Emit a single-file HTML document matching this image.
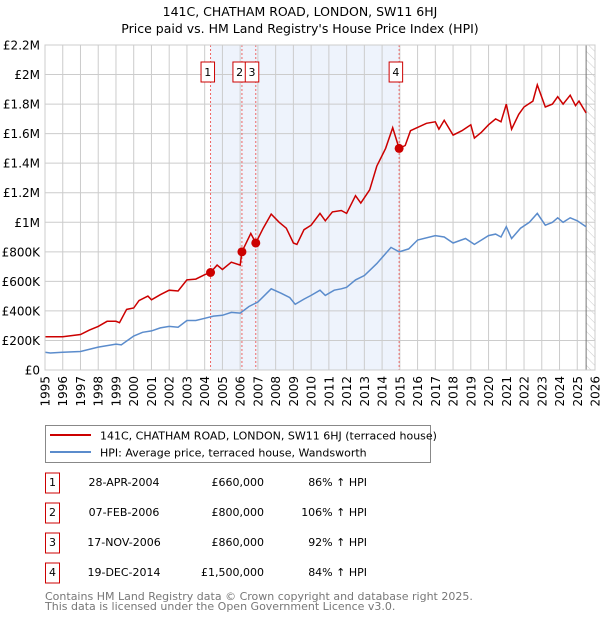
<!DOCTYPE html>
<html><head><meta charset="utf-8"><style>
body{margin:0;background:#fff;font-family:"DejaVu Sans","Liberation Sans",sans-serif;}
svg text{font-family:"DejaVu Sans","Liberation Sans",sans-serif;}
</style></head><body>
<svg id="chart" width="600" height="620" xmlns="http://www.w3.org/2000/svg">
<defs><pattern id="hatch" width="6" height="6" patternUnits="userSpaceOnUse" patternTransform="rotate(-45)"><line x1="0" y1="0" x2="0" y2="6" stroke="#ccc" stroke-width="1"/></pattern></defs>
<text x="300" y="16" text-anchor="middle" font-size="12.5">141C, CHATHAM ROAD, LONDON, SW11 6HJ</text>
<text x="300" y="33" text-anchor="middle" font-size="12.5">Price paid vs. HM Land Registry's House Price Index (HPI)</text>
<g id="plot"></g>
<g id="legend">
<rect x="45.5" y="425.5" width="385" height="37" fill="#fff" stroke="#888"/>
<line x1="50" y1="435" x2="91" y2="435" stroke="#cc0000" stroke-width="2"/>
<text x="100" y="439.5" font-size="11">141C, CHATHAM ROAD, LONDON, SW11 6HJ (terraced house)</text>
<line x1="50" y1="452" x2="91" y2="452" stroke="#5b8ccc" stroke-width="2"/>
<text x="100" y="456.5" font-size="11">HPI: Average price, terraced house, Wandsworth</text>
</g>
<g id="table"></g>
<text x="45" y="600" font-size="11" fill="#777">Contains HM Land Registry data © Crown copyright and database right 2025.</text>
<text x="45" y="610" font-size="11" fill="#777">This data is licensed under the Open Government Licence v3.0.</text>
</svg>
<script>
const redT=[1995,1995.5,1996,1997,1997.5,1998,1998.5,1999,1999.2,1999.6,2000,2000.3,2000.8,2001,2001.5,2002,2002.5,2003,2003.5,2004,2004.33,2004.7,2005,2005.5,2006,2006.1,2006.6,2006.88,2007.3,2007.75,2008.2,2008.6,2009,2009.2,2009.6,2010,2010.5,2010.8,2011.2,2011.7,2012,2012.5,2012.8,2013.3,2013.7,2014.2,2014.6,2014.96,2015.3,2015.6,2016.5,2017,2017.2,2017.5,2018,2018.5,2019,2019.2,2019.6,2020,2020.4,2020.7,2021,2021.3,2021.7,2022,2022.5,2022.75,2023.2,2023.6,2023.9,2024.2,2024.6,2024.9,2025.1,2025.5];
const redV=[225,225,225,240,270,295,330,330,320,410,420,470,500,475,510,540,535,610,615,645,660,710,680,730,710,800,925,860,960,1055,1000,960,860,850,950,980,1060,1010,1070,1080,1060,1180,1130,1220,1380,1500,1640,1500,1520,1620,1670,1680,1630,1690,1590,1620,1660,1570,1610,1660,1700,1680,1800,1630,1730,1780,1820,1930,1780,1800,1850,1800,1860,1790,1820,1740];
const hpiT=[1995,1995.3,1996,1997,1998,1999,1999.3,2000,2000.5,2001,2001.5,2002,2002.5,2003,2003.5,2004,2004.5,2005,2005.5,2006,2006.5,2007,2007.75,2008.3,2008.8,2009.1,2009.6,2010,2010.5,2010.8,2011.3,2011.7,2012,2012.5,2013,2013.7,2014.5,2014.96,2015.5,2016,2017,2017.5,2018,2018.7,2019.2,2019.6,2020,2020.4,2020.7,2021,2021.3,2021.8,2022.3,2022.75,2023.2,2023.6,2023.9,2024.2,2024.6,2025,2025.5];
const hpiV=[120,115,120,125,155,175,170,230,255,265,285,295,290,335,335,350,365,370,390,385,430,460,550,520,490,445,480,505,540,505,540,550,560,610,640,720,830,800,820,880,910,900,860,890,850,880,910,920,900,970,890,960,1000,1060,980,1000,1030,1000,1030,1010,970];
const saleT=[2004.33,2006.1,2006.88,2014.96];
const saleV=[660,800,860,1500];
const saleLabels=["1","2","3","4"];
const saleDates=["28-APR-2004","07-FEB-2006","17-NOV-2006","19-DEC-2014"];
const salePrices=["£660,000","£800,000","£860,000","£1,500,000"];
const salePct=["86% ↑ HPI","106% ↑ HPI","92% ↑ HPI","84% ↑ HPI"];
const yTicks=[0,200,400,600,800,1000,1200,1400,1600,1800,2000,2200];
const yTickLabels=["£0","£200K","£400K","£600K","£800K","£1M","£1.2M","£1.4M","£1.6M","£1.8M","£2M","£2.2M"];
const xYears=[1995,1996,1997,1998,1999,2000,2001,2002,2003,2004,2005,2006,2007,2008,2009,2010,2011,2012,2013,2014,2015,2016,2017,2018,2019,2020,2021,2022,2023,2024,2025,2026];

const NS="http://www.w3.org/2000/svg";
const X0=45,X1=595,Y0=370,Y1=45;
const x=t=>X0+(t-1995)/(2026-1995)*(X1-X0);
const y=v=>Y0-v/2200*(Y0-Y1);
const plot=document.getElementById('plot');
function mk(tag,attrs,parent){const e=document.createElementNS(NS,tag);for(const k in attrs)e.setAttribute(k,attrs[k]);(parent||plot).appendChild(e);return e;}
let e;
e=mk('rect',{x:x(saleT[0]),y:Y1,width:x(saleT[3])-x(saleT[0]),height:Y0-Y1,fill:'#eef3fc'});


e=mk('rect',{x:x(2025.5),y:Y1,width:X1-x(2025.5),height:Y0-Y1,fill:'url(#hatch)'});


yTicks.forEach((v,i)=>{
 e=mk('line',{x1:X0,x2:X1,y1:y(v),y2:y(v),stroke:'#ccc'});
 
 
 e=mk('text',{x:40,y:y(v)+4.5,'text-anchor':'end','font-size':12});
 e.textContent=yTickLabels[i];
 
 
});
xYears.forEach(yr=>{
 e=mk('line',{x1:x(yr),x2:x(yr),y1:Y1,y2:Y0,stroke:'#ccc'});
 
 
 e=mk('text',{x:0,y:0,'font-size':12,'text-anchor':'end',transform:`translate(${x(yr)+4.5},${Y0+6}) rotate(-90)`});
 e.textContent=yr;
 
 
});
e=mk('line',{x1:x(2025.5),x2:x(2025.5),y1:Y1,y2:Y0,stroke:'#777'});


saleT.forEach((t,i)=>{
 e=mk('line',{x1:x(t),x2:x(t),y1:Y1,y2:Y0,stroke:'#e66','stroke-dasharray':'2,2'});
 
 
});
const path=(T,V)=>T.map((t,i)=>(i?'L':'M')+x(t).toFixed(1)+','+y(V[i]).toFixed(1)).join(' ');
e=mk('path',{d:path(hpiT,hpiV),fill:'none',stroke:'#5b8ccc','stroke-width':1.5});


e=mk('path',{d:path(redT,redV),fill:'none',stroke:'#cc0000','stroke-width':1.5});


const badgeOff=[-9.5,-9,-10.5,-10];
saleT.forEach((t,i)=>{
 e=mk('circle',{cx:x(t),cy:y(saleV[i]),r:4.5,fill:'#cc0000'});
 
 
 const fx=x(t)+badgeOff[i];
 e=mk('rect',{x:fx,y:62,width:13.5,height:20,fill:'#fff',stroke:'#cc0000'});
 
 
 e=mk('text',{x:fx+6.75,y:76,'text-anchor':'middle','font-size':11});
 e.textContent=saleLabels[i];
 
 
});
e=mk('rect',{x:X0,y:Y1,width:X1-X0,height:Y0-Y1,fill:'none',stroke:'#ccc'});


const tbl=document.getElementById('table');
saleLabels.forEach((l,i)=>{
 const cy=483+i*30;
 e=mk('rect',{x:45.5,y:cy-10,width:14,height:20,fill:'#fff',stroke:'#cc0000'},tbl);
 
 
 e=mk('text',{x:52.5,y:cy+3,'text-anchor':'middle','font-size':11},tbl);e.textContent=l;
 
 
 e=mk('text',{x:124,y:cy+3,'text-anchor':'middle','font-size':11},tbl);e.textContent=saleDates[i];
 
 
 e=mk('text',{x:264,y:cy+3,'text-anchor':'end','font-size':11},tbl);e.textContent=salePrices[i];
 
 
 e=mk('text',{x:367,y:cy+3,'text-anchor':'end','font-size':11},tbl);e.textContent=salePct[i];
 
 
});
</script>
</body></html>
